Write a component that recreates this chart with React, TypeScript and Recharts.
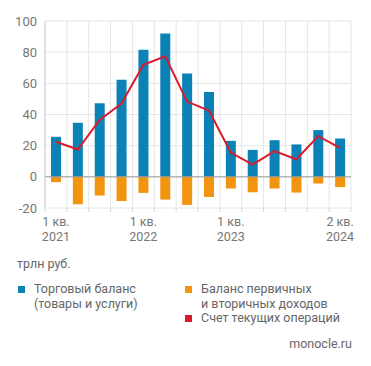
import React from 'react';
import {
  ComposedChart,
  Bar,
  Line,
  XAxis,
  YAxis,
  CartesianGrid,
  ReferenceLine,
} from 'recharts';

// quarters 1 кв. 2021 .. 2 кв. 2024
const quarters = ['1q21', '2q21', '3q21', '4q21', '1q22', '2q22', '3q22', '4q22', '1q23', '2q23', '3q23', '4q23', '1q24', '2q24'];
const tickTop = ['1 кв.', '', '', '', '1 кв.', '', '', '', '1 кв.', '', '', '', '', '2 кв.'];
const tickBottom = ['2021', '', '', '', '2022', '', '', '', '2023', '', '', '', '', '2024'];
const yTicks = [-20, 0, 20, 40, 60, 80, 100];

const tradeBalance = [25.7, 34.7, 47.2, 62.3, 81.6, 91.9, 66.3, 54.5, 23.1, 17.3, 23.5, 20.8, 30.0, 24.6];
const incomeBalance = [-3.4, -17.6, -12.0, -15.5, -10.3, -14.6, -18.0, -12.9, -7.5, -9.9, -7.5, -10.1, -4.3, -6.6];
const currentAccount = [22.5, 17.5, 36.5, 47.0, 71.9, 77.3, 48.3, 42.5, 15.6, 7.9, 16.5, 11.3, 26.1, 18.6];

const BLUE = '#0a82b6';
const ORANGE = '#f29410';
const RED = '#dc1a2e';
const FONT = 'Roboto, "Open Sans", sans-serif';

const data = quarters.map((q, i) => ({
  q,
  trade: tradeBalance[i],
  income: incomeBalance[i],
  current: currentAccount[i],
}));

const XTick = (props: any) => {
  const { x, y, payload, index } = props;
  const off = payload.offset || 0;
  const last = index === quarters.length - 1;
  return (
    <g>
      <line x1={x - off} x2={x - off} y1={y} y2={y + 4} stroke="#d8d8d8" />
      {last && <line x1={x + off} x2={x + off} y1={y} y2={y + 4} stroke="#d8d8d8" />}
      {tickTop[index] && (
        <>
          <text x={x} y={y + 18} textAnchor="middle" fontSize={12.5} fill="#777" fontFamily={FONT}>
            {tickTop[index]}
          </text>
          <text x={x} y={y + 33} textAnchor="middle" fontSize={12.5} fill="#777" fontFamily={FONT}>
            {tickBottom[index]}
          </text>
        </>
      )}
    </g>
  );
};

const LegendItem = ({ color, lines, left, top }: { color: string; lines: string[]; left: number; top: number }) => (
  <div style={{ position: 'absolute', left, top, display: 'flex', alignItems: 'flex-start' }}>
    <div style={{ width: 7, height: 7, background: color, marginTop: 4, marginRight: 9 }} />
    <div style={{ fontSize: 12.5, lineHeight: '14.5px', color: '#666' }}>
      {lines.map((l) => (
        <div key={l}>{l}</div>
      ))}
    </div>
  </div>
);

export default function App() {
  return (
    <div style={{ position: 'absolute', left: 0, top: 0, width: 371, height: 366, background: '#fff', fontFamily: FONT }}>
      <ComposedChart
        width={371}
        height={250}
        data={data}
        stackOffset="sign"
        margin={{ top: 21, right: 20, left: 0, bottom: 2 }}
      >
        <CartesianGrid
          stroke="#e6e6e6"
          verticalCoordinatesGenerator={({ offset }: any) =>
            quarters.map((_, i) => offset.left + (offset.width * i) / quarters.length).concat(offset.left + offset.width)
          }
        />
        <XAxis
          dataKey="q"
          interval={0}
          axisLine={false}
          tickLine={false}
          tickSize={0}
          tickMargin={0}
          height={40}
          tick={<XTick />}
        />
        <YAxis
          domain={[-20, 100]}
          ticks={yTicks}
          width={45}
          axisLine={{ stroke: '#cfcfcf' }}
          tickLine={false}
          tickSize={0}
          tickMargin={8}
          tick={{ fontSize: 13, fill: '#777', fontFamily: FONT }}
        />
        <ReferenceLine y={0} stroke="#9a9a9a" />
        <Bar dataKey="trade" stackId="a" fill={BLUE} barSize={10} isAnimationActive={false} />
        <Bar dataKey="income" stackId="a" fill={ORANGE} barSize={10} isAnimationActive={false} />
        <Line
          type="linear"
          dataKey="current"
          stroke={RED}
          strokeWidth={2}
          dot={false}
          activeDot={false}
          isAnimationActive={false}
        />
      </ComposedChart>
      <div style={{ position: 'absolute', left: 17, top: 256, fontSize: 12.5, color: '#666' }}>трлн руб.</div>
      <LegendItem color={BLUE} lines={['Торговый баланс', '(товары и услуги)']} left={18} top={282} />
      <LegendItem color={ORANGE} lines={['Баланс первичных', 'и вторичных доходов']} left={185} top={282} />
      <LegendItem color={RED} lines={['Счет текущих операций']} left={185} top={311} />
      <div style={{ position: 'absolute', right: 19, top: 336, fontSize: 12.5, color: '#666' }}>monocle.ru</div>
    </div>
  );
}
